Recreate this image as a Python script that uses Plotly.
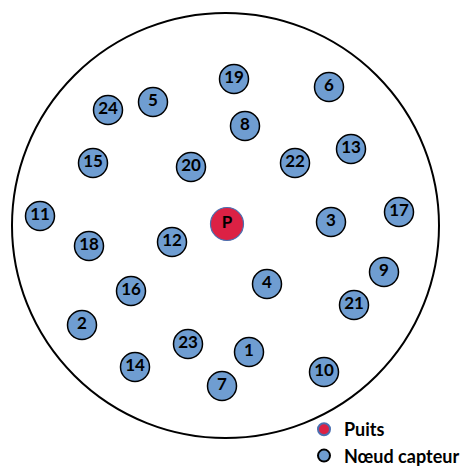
import plotly.graph_objects as go

# Sensor nodes: id, x, y (pixel-like coordinates of the drawing area)
node_ids = [1, 2, 3, 4, 5, 6, 7, 8, 9, 10, 11, 12, 13, 14, 15, 16, 17, 18, 19, 20, 21, 22, 23, 24]
node_x = [249, 82, 331, 267, 153, 329, 222, 245, 384, 324, 40, 172, 351, 135, 93, 131, 399, 89, 234, 191, 354, 295, 188, 108]
node_y = [352, 325, 222, 284, 102, 87, 386, 126, 272, 372, 216, 242, 149, 367, 163, 291, 212, 246, 79, 167, 305, 163, 344, 110]

sink_label = ["P"]
sink_x = [227]
sink_y = [224]

# Field boundary (circle extents)
field_x = [12, 439]
field_y = [13, 438]

W, H = 464, 468
FONT = "Lato, 'Open Sans', 'DejaVu Sans', sans-serif"

fig = go.Figure()

fig.add_shape(type="circle", xref="x", yref="y",
              x0=field_x[0], x1=field_x[1], y0=field_y[0], y1=field_y[1],
              line=dict(color="black", width=2), layer="below")

fig.add_trace(go.Scatter(
    x=sink_x, y=sink_y, mode="markers+text", name="Puits",
    text=[f"<b>{t}</b>" for t in sink_label], textposition="middle center",
    textfont=dict(family=FONT, size=17, color="black"),
    marker=dict(size=33, color="#dc2144", line=dict(color="#4a6fb0", width=1.2)),
))

fig.add_trace(go.Scatter(
    x=node_x, y=node_y, mode="markers+text", name="Nœud capteur",
    text=[f"<b>{i}</b>" for i in node_ids], textposition="middle center",
    textfont=dict(family=FONT, size=17, color="black"),
    marker=dict(size=29, color="#6f9dd1", line=dict(color="black", width=1.5)),
))

fig.update_layout(
    width=W, height=H, margin=dict(l=0, r=0, t=0, b=0, autoexpand=False),
    paper_bgcolor="white", plot_bgcolor="white",
    xaxis=dict(range=[0, W], visible=False, fixedrange=True),
    yaxis=dict(range=[H, 0], visible=False, fixedrange=True),
    showlegend=True,
    legend=dict(x=304 / W, y=-6 / H, xanchor="left", yanchor="bottom",
                font=dict(family=FONT, size=18, color="black", weight="bold"),
                itemsizing="constant", bgcolor="rgba(0,0,0,0)", tracegroupgap=0,
                borderwidth=0),
)

fig.write_html("out.html", config={"displayModeBar": False},
               post_script="document.body.style.margin='0';")
